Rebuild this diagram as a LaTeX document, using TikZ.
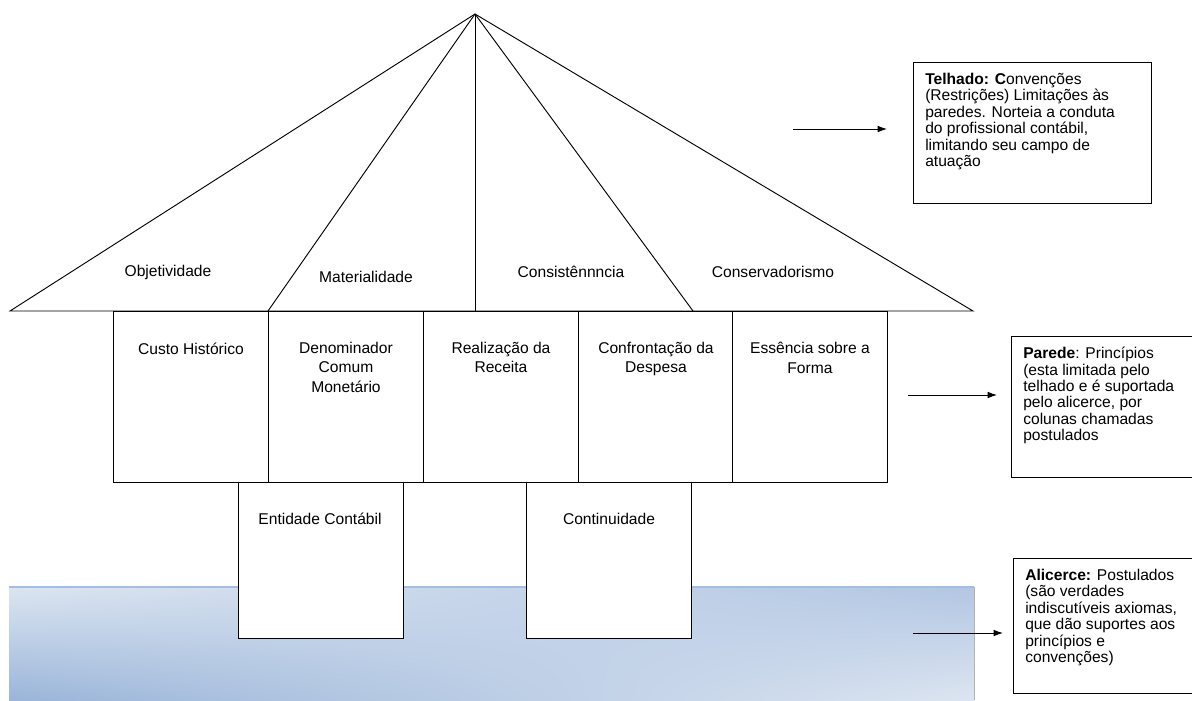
\documentclass[tikz,border=0pt]{standalone}
\usepackage{fontspec}
\setmainfont{Liberation Sans}
\usetikzlibrary{shadings,arrows.meta}
\tikzset{>={Latex[length=7pt,width=5pt]}}
\definecolor{alicerceescuro}{HTML}{9AB5D9}
\definecolor{alicercemeio}{HTML}{B2C6E3}
\definecolor{alicerceclaro}{HTML}{DCE5F1}
\definecolor{bordaazul}{HTML}{A3BEE2}
\tikzset{
	linha/.style={line width=0.7pt},
	texto/.style={font=\fontsize{11.7}{14.3}\selectfont, inner sep=0pt, align=center},
	nota/.style={font=\fontsize{11.7}{12.3}\selectfont, inner sep=0pt, align=left, anchor=north west},
	parede/.style={draw, linha, fill=white, anchor=north west, inner sep=0pt, minimum width=116.25pt, minimum height=128.25pt},
	coluna/.style={draw, linha, fill=white, anchor=north west, inner sep=0pt, minimum width=124pt, minimum height=117pt},
	quadro/.style={draw, linha, anchor=north west, inner sep=0pt}
}

\begin{document}
\begin{tikzpicture}[x=0.75pt, y=-0.75pt]
	\useasboundingbox (0,0) rectangle (1192,700);

	% alicerce
	\shade[upper left=alicerceclaro, upper right=alicercemeio, lower left=alicerceescuro, lower right=alicerceclaro] (9,587) rectangle (974,700);
	\draw[bordaazul, line width=0.8pt] (9,587) -- (974,587);
	\draw[gray!60, line width=0.6pt] (974,587) -- (974,700);

	% colunas (postulados)
	\node[coluna] (entidade) at (238,482) {};
	\node[coluna] (continuidade) at (526,482) {};
	\node[texto] at (320,519) {Entidade Contábil};
	\node[texto] at (609,519) {Continuidade};

	% paredes (principios)
	\foreach \px/\nome/\rotulo in {113/custo/{Custo Histórico}, 268/denominador/{Denominador\\Comum\\Monetário}, 423/realizacao/{Realização da\\Receita}, 578/confrontacao/{Confrontação da\\Despesa}, 732/essencia/{Essência sobre a\\Forma}}
	{
		\node[parede] (\nome) at (\px,311) {};
		\node[texto, anchor=north] at ([yshift=-23.5pt]\nome.north) {\rotulo};
	}

	% telhado (convencoes)
	\coordinate (cume) at (475,14);
	\coordinate (beiralesq) at (10,311);
	\coordinate (beiraldir) at (973,311);
	\draw[linha] (beiralesq) -- (cume) -- (beiraldir) -- cycle;
	\draw[linha] (cume) -- (268,311);
	\draw[linha] (cume) -- (475,311);
	\draw[linha] (cume) -- (693,311);

	\node[texto] at (168,272) {Objetividade};
	\node[texto] at (366,277) {Materialidade};
	\node[texto] at (571,272) {Consistênnncia};
	\node[texto] at (773,272) {Conservadorismo};

	% quadros explicativos
	\node[quadro, minimum width=178.5pt, minimum height=105.75pt] (telhado) at (913,62) {};
	\node[nota] at (925,73) {\textbf{Telhado: C}onvenções\\(Restrições) Limitações às\\paredes. Norteia a conduta\\do profissional contábil,\\limitando seu campo de\\atuação};

	\node[quadro, minimum width=138pt, minimum height=105.75pt] (paredes) at (1011,336) {};
	\node[nota] at (1023,347) {\textbf{Parede}: Princípios\\(esta limitada pelo\\telhado e é suportada\\pelo alicerce, por\\colunas chamadas\\postulados};

	\node[quadro, minimum width=138pt, minimum height=101.25pt] (alicerce) at (1013,558) {};
	\node[nota] at (1025,569) {\textbf{Alicerce:} Postulados\\(são verdades\\indiscutíveis axiomas,\\que dão suportes aos\\princípios e\\convenções)};

	% setas
	\coordinate (s1) at (793,129);
	\coordinate (e1) at (887,129);
	\coordinate (s2) at (908,395);
	\coordinate (e2) at (997,395);
	\coordinate (s3) at (913,633);
	\coordinate (e3) at (1003,633);
	\draw[linha][->] (s1) -- (e1);
	\draw[linha][->] (s2) -- (e2);
	\draw[linha][->] (s3) -- (e3);
\end{tikzpicture}
\end{document}
